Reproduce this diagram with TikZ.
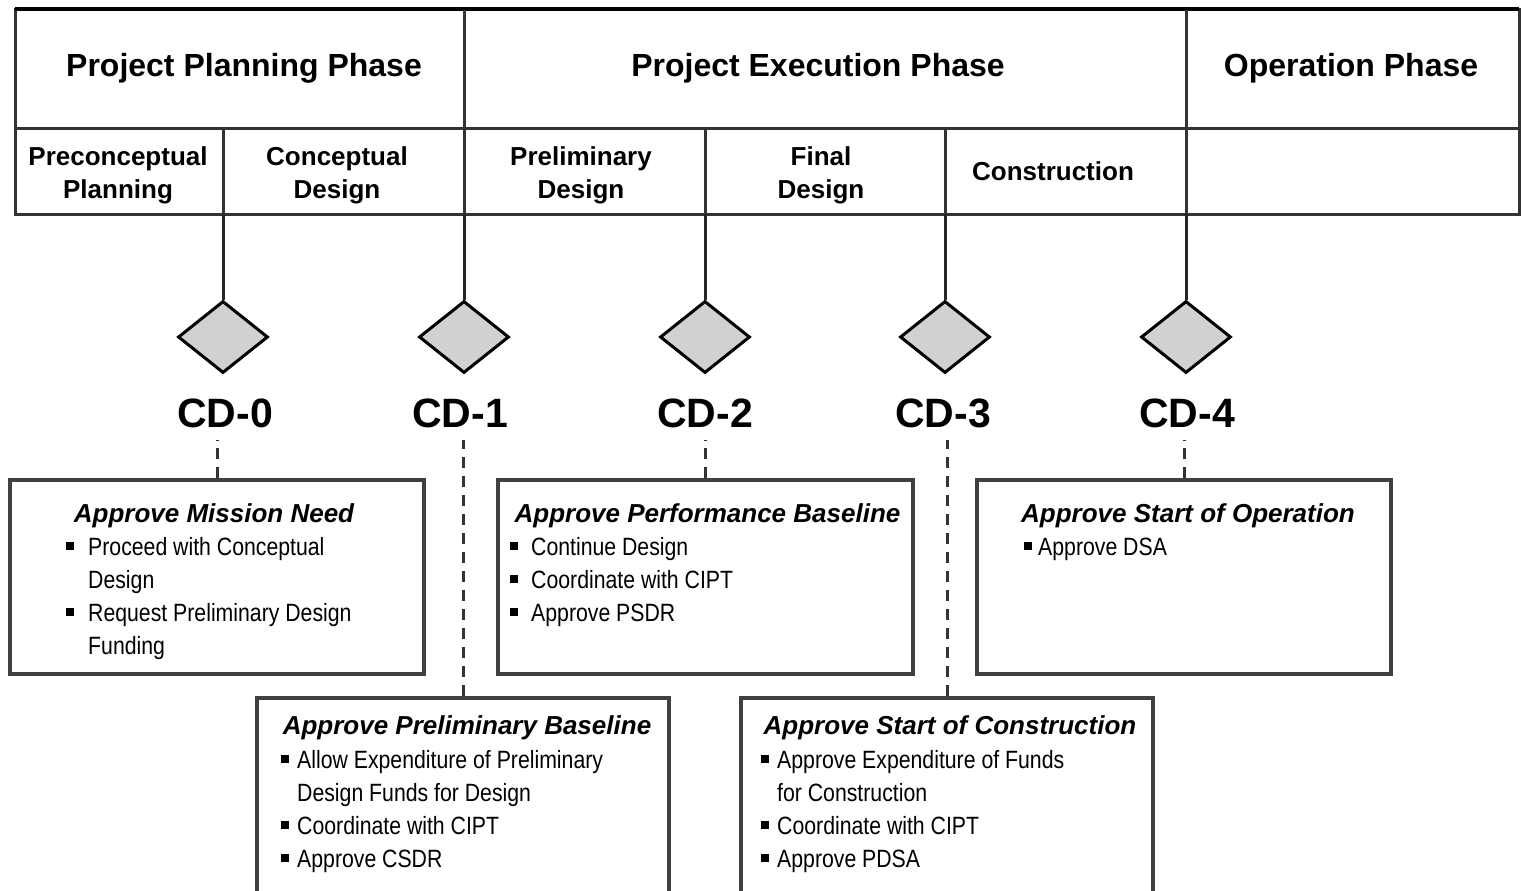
\documentclass[tikz,border=0pt]{standalone}
\usepackage{fontspec}
\setmainfont{Liberation Sans}
\newfontfamily\bodyfont[FakeStretch=0.85]{Liberation Sans}
\usetikzlibrary{shapes.geometric}

% bullet square hung to the left of an item line; #1 = gap to the text
\newcommand\bul[1]{\llap{\rule[5pt]{8pt}{8pt}\hspace{#1}}}

\begin{document}
\begin{tikzpicture}[x=1pt,y=-1pt,
  grid/.style={line width=3pt, draw=black!80},
  phase/.style={font=\fontsize{32}{38}\selectfont\bfseries, anchor=base, inner sep=0pt},
  sub/.style={font=\fontsize{26}{31}\selectfont\bfseries, anchor=base, inner sep=0pt},
  cdlabel/.style={font=\fontsize{41}{48}\selectfont\bfseries, anchor=base, inner sep=0pt},
  gate/.style={diamond, draw=black, line width=3pt, fill=black!18,
    minimum width=90pt, minimum height=72pt, inner sep=0pt},
  card/.style={rectangle, draw=black!75, line width=3.5pt, fill=white, inner sep=0pt},
  ttl/.style={font=\fontsize{26}{31}\selectfont\bfseries\itshape, anchor=base, inner sep=0pt},
  item/.style={font=\bodyfont\fontsize{25}{30}\selectfont, anchor=base west, inner sep=0pt},
  link/.style={line width=3pt, draw=black!85},
  gatedash/.style={line width=3pt, draw=black!80, dash pattern=on 11pt off 8pt},
]
\useasboundingbox (0,0) rectangle (1523,891);

% ---------- phase table ----------
\draw[grid] (15,10) rectangle (1519,214);
\draw[grid] (15,128) -- (1519,128);
\draw[line width=4pt, black] (15,9) -- (1519,9);
\draw[grid] (464,10) -- (464,128);
\draw[grid] (1186,10) -- (1186,128);
\foreach \xx in {223,464,705,945,1186}
  \draw[grid] (\xx,128) -- (\xx,214);

\node[phase] (plan) at (244,77) {Project Planning Phase};
\node[phase] (exec) at (818,77) {Project Execution Phase};
\node[phase] (oper) at (1351,77) {Operation Phase};

\node[sub] (pre1) at (118,165) {Preconceptual};
\node[sub] (pre2) at (118,198) {Planning};
\node[sub] (con1) at (337,165) {Conceptual};
\node[sub] (con2) at (337,198) {Design};
\node[sub] (prl1) at (581,165) {Preliminary};
\node[sub] (prl2) at (581,198) {Design};
\node[sub] (fin1) at (821,165) {Final};
\node[sub] (fin2) at (821,198) {Design};
\node[sub] (cons) at (1053,180) {Construction};

% junctions on the bottom edge of the table
\coordinate (j0) at (223,214);
\coordinate (j1) at (464,214);
\coordinate (j2) at (705,214);
\coordinate (j3) at (945,214);
\coordinate (j4) at (1186,214);

% ---------- critical decisions ----------
\node[gate] (d0) at (223,337) {};
\node[gate] (d1) at (464,337) {};
\node[gate] (d2) at (705,337) {};
\node[gate] (d3) at (945,337) {};
\node[gate] (d4) at (1186,337) {};

\draw[link] (j0) -- (d0.north);
\draw[link] (j1) -- (d1.north);
\draw[link] (j2) -- (d2.north);
\draw[link] (j3) -- (d3.north);
\draw[link] (j4) -- (d4.north);

\node[cdlabel] (cd0) at (225,427) {CD-0};
\node[cdlabel] (cd1) at (460,427) {CD-1};
\node[cdlabel] (cd2) at (705,427) {CD-2};
\node[cdlabel] (cd3) at (943,427) {CD-3};
\node[cdlabel] (cd4) at (1187,427) {CD-4};

% ---------- decision boxes ----------
\node[card, minimum width=414pt, minimum height=194pt] (box0) at (217,577) {};
\node[card, minimum width=415pt, minimum height=194pt] (box2) at (705.5,577) {};
\node[card, minimum width=414pt, minimum height=194pt] (box4) at (1184,577) {};
\node[card, minimum width=412pt, minimum height=210pt] (box1) at (463,803) {};
\node[card, minimum width=412pt, minimum height=210pt] (box3) at (947,803) {};

\draw[gatedash, shorten >=12pt] (box0.north) -- (box0.north |- cd0.south);
\draw[gatedash, shorten >=12pt] (box1.north) -- (box1.north |- cd1.south);
\draw[gatedash, shorten >=12pt] (box2.north) -- (box2.north |- cd2.south);
\draw[gatedash, shorten >=12pt] (box3.north) -- (box3.north |- cd3.south);
\draw[gatedash, shorten >=12pt] (box4.north) -- (box4.north |- cd4.south);

% CD-0
\node[ttl] (t0) at (214,522) {Approve Mission Need};
\node[item] (i01) at (88,555) {\bul{14pt}Proceed with Conceptual};
\node[item] (i02) at (88,588) {Design};
\node[item] (i03) at (88,621) {\bul{14pt}Request Preliminary Design};
\node[item] (i04) at (88,654) {Funding};

% CD-2
\node[ttl] (t2) at (707.5,522) {Approve Performance Baseline};
\node[item] (i21) at (531,555) {\bul{13pt}Continue Design};
\node[item] (i22) at (531,588) {\bul{13pt}Coordinate with CIPT};
\node[item] (i23) at (531,621) {\bul{13pt}Approve PSDR};

% CD-4
\node[ttl] (t4) at (1188,522) {Approve Start of Operation};
\node[item] (i41) at (1038,555) {\bul{6pt}Approve DSA};

% CD-1
\node[ttl] (t1) at (467,734) {Approve Preliminary Baseline};
\node[item] (i11) at (297,768) {\bul{8pt}Allow Expenditure of Preliminary};
\node[item] (i12) at (297,801) {Design Funds for Design};
\node[item] (i13) at (297,834) {\bul{8pt}Coordinate with CIPT};
\node[item] (i14) at (297,867) {\bul{8pt}Approve CSDR};

% CD-3
\node[ttl] (t3) at (950,734) {Approve Start of Construction};
\node[item] (i31) at (777,768) {\bul{8pt}Approve Expenditure of Funds};
\node[item] (i32) at (777,801) {for Construction};
\node[item] (i33) at (777,834) {\bul{8pt}Coordinate with CIPT};
\node[item] (i34) at (777,867) {\bul{8pt}Approve PDSA};
\end{tikzpicture}
\end{document}
